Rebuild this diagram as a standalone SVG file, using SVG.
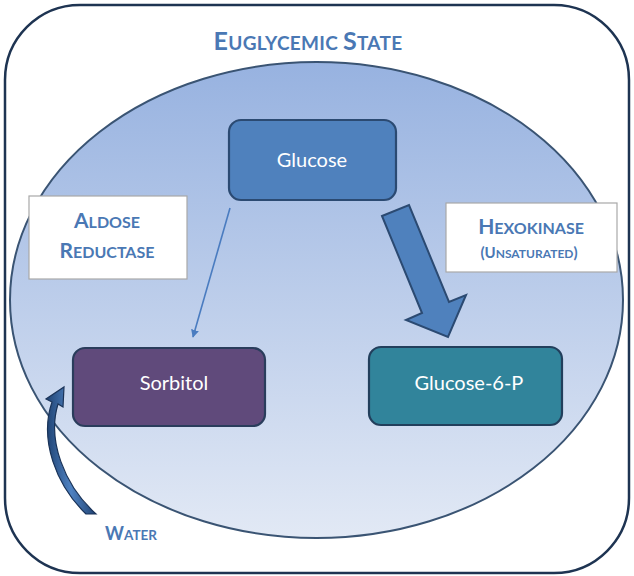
<svg xmlns="http://www.w3.org/2000/svg" width="634" height="576" viewBox="0 0 634 576">
<defs>
<linearGradient id="ellGrad" x1="0" y1="0" x2="0" y2="1">
<stop offset="0" stop-color="#97b2e0"/>
<stop offset="1" stop-color="#e2e9f5"/>
</linearGradient>
<linearGradient id="waterGrad" x1="0" y1="0" x2="1" y2="0">
<stop offset="0" stop-color="#1f4272"/>
<stop offset="0.5" stop-color="#4f82c2"/>
<stop offset="1" stop-color="#1f4272"/>
</linearGradient>
<marker id="thinHead" viewBox="0 0 10 10" refX="9" refY="5" markerWidth="8" markerHeight="8" markerUnits="userSpaceOnUse" orient="auto">
<path d="M0,0 L10,5 L0,10 Z" fill="#4a7cc0"/>
</marker>
<style>
.lbl{font-family:Lato,"Open Sans","Liberation Sans",sans-serif;font-weight:bold;fill:#4a78b4;text-anchor:middle}
.nodeTxt{font-family:Lato,"Open Sans","Liberation Sans",sans-serif;fill:#ffffff;text-anchor:middle;font-size:20px}
.box{stroke-width:2.2}
.note{fill:#ffffff;stroke:#a8a8a8;stroke-width:1.2}
</style>
</defs>

<g id="frame">
<rect x="5" y="5" width="624" height="568" rx="75" ry="75" fill="#ffffff" stroke="#1e3452" stroke-width="2.5"/>
<text class="lbl" x="308" y="50" letter-spacing="0.3"><tspan font-size="25">E</tspan><tspan font-size="19">UGLYCEMIC </tspan><tspan font-size="25">S</tspan><tspan font-size="19">TATE</tspan></text>
</g>

<g id="state">
<ellipse cx="316.500" cy="300" rx="306.500" ry="238" fill="url(#ellGrad)" stroke="#3a5473" stroke-width="2"/>
</g>

<g id="connectors">
<line x1="230" y1="208" x2="193" y2="337" stroke="#4a7cc0" stroke-width="1.6" marker-end="url(#thinHead)"/>
<polygon points="382,216 409,205 449,302 466,295 448,337 406,320 422,313" fill="#4f81bd" stroke="#2b4a72" stroke-width="2" stroke-linejoin="miter"/>
<path d="M86,514 C56,485 39,440 52,402 L46,399 L64,387 L63,407 L58,404 C47,440 64,485 96,514 Z" fill="url(#waterGrad)" stroke="#1a3358" stroke-width="1.2"/>
</g>

<g id="glucose">
<rect class="box" x="229" y="120" width="167" height="80" rx="12" ry="12" fill="#4f81bd" stroke="#2b4a72"/>
<text class="nodeTxt" x="312" y="167">Glucose</text>
</g>

<g id="sorbitol">
<rect class="box" x="73" y="348" width="192" height="78" rx="12" ry="12" fill="#604a7b" stroke="#2a3d5c"/>
<text class="nodeTxt" x="174" y="390">Sorbitol</text>
</g>

<g id="glucose6p">
<rect class="box" x="369" y="347" width="193" height="78" rx="12" ry="12" fill="#31849b" stroke="#223f5c"/>
<text class="nodeTxt" x="469" y="390">Glucose-6-P</text>
</g>

<g id="aldose-reductase">
<rect class="note" x="29" y="196" width="158" height="83"/>
<text class="lbl" x="107" y="228"><tspan font-size="21">A</tspan><tspan font-size="16">LDOSE</tspan></text>
<text class="lbl" x="107" y="258"><tspan font-size="21">R</tspan><tspan font-size="16">EDUCTASE</tspan></text>
</g>

<g id="hexokinase">
<rect class="note" x="446" y="203" width="171" height="69"/>
<text class="lbl" x="531" y="234"><tspan font-size="21">H</tspan><tspan font-size="16">EXOKINASE</tspan></text>
<text class="lbl" x="529" y="258"><tspan font-size="15">(U</tspan><tspan font-size="12">NSATURATED</tspan><tspan font-size="15">)</tspan></text>
</g>

<g id="water">
<text class="lbl" x="131" y="540"><tspan font-size="18">W</tspan><tspan font-size="13.500">ATER</tspan></text>
</g>
</svg>
